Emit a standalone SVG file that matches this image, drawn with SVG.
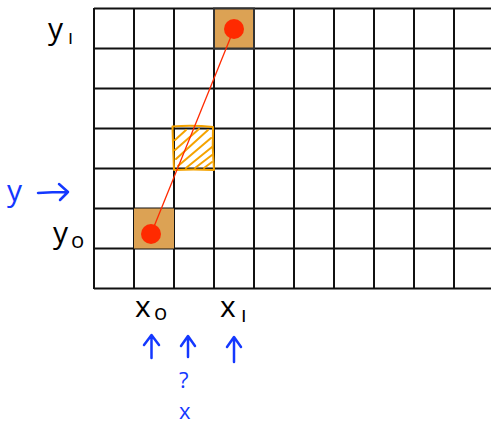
<svg xmlns="http://www.w3.org/2000/svg" width="491" height="426" viewBox="0 0 491 426">
<style>
.grid{stroke:#111;stroke-width:2;fill:none}
.cell{fill:#dca254;stroke:#333;stroke-width:2}
.dot{fill:#ff2a00}
.blk{font-family:"Open Sans","Liberation Sans",sans-serif;fill:#000}
.blu{font-family:"Open Sans","Liberation Sans",sans-serif;fill:#1438ff}
.arr{stroke:#1438ff;stroke-width:2.5;fill:none;stroke-linecap:round;stroke-linejoin:round}
.hatch{stroke:#f5a300;stroke-width:2;fill:none;stroke-linecap:round;stroke-linejoin:round}
</style>
<rect width="491" height="426" fill="#fff"/>
<g id="grid">
<path class="grid" d="M94 8.5H491M94 48.5H491M94 88.5H491M94 128.5H491M94 168.5H491M94 208.5H491M94 248.5H491M94 288.5H491"/>
<path class="grid" d="M94 8V289M134 8V289M174 8V289M214 8V289M254 8V289M294 8V289M334 8V289M374 8V289M414 8V289M454 8V289"/>
</g>
<g id="cell-start"><rect class="cell" x="134" y="208.5" width="40" height="40" style="stroke:none"/></g>
<g id="cell-end"><rect class="cell" x="214" y="8.5" width="40" height="40"/></g>
<g id="cell-mid">
<path class="hatch" d="M172.5 126.5Q193 125 213 127Q212 148 214 170Q193 169 174 170Q173 148 172.5 126.5Z"/>
<path class="hatch" d="M175 140L186 130M175 150L199 129M176 159L208 130M178 166L211 138M186 168L212 147M195 168L212 155M204 168L212 162"/>
</g>
<g id="connectors">
<line x1="234" y1="29" x2="151" y2="234" stroke="#ff2a00" stroke-width="1.3"/>
</g>
<g id="point-start"><circle class="dot" cx="151" cy="234" r="10"/></g>
<g id="point-end"><circle class="dot" cx="234" cy="29" r="10"/></g>
<g id="labels">
<text class="blk" x="48" y="39" font-size="30">y</text>
<text class="blk" x="68" y="44" font-size="20">ı</text>
<text class="blk" x="53" y="243" font-size="30">y</text>
<text class="blk" x="71" y="248" font-size="22">o</text>
<text class="blk" x="135" y="317" font-size="30">x</text>
<text class="blk" x="154" y="320" font-size="22">o</text>
<text class="blk" x="220" y="317" font-size="30">x</text>
<text class="blk" x="241" y="322" font-size="22">ı</text>
<text class="blu" x="7" y="201" font-size="30">y</text>
<path class="arr" d="M38 193Q52 192 68 192M59 184L68 192L60 200"/>
<path class="arr" d="M151.5 358V336M144 345L151.5 335L159 345"/>
<path class="arr" d="M188 357V337M181 346L188 336L195 346"/>
<path class="arr" d="M234 362V338M227 347L234 337L241 347"/>
<text class="blu" x="179" y="388" font-size="22">?</text>
<text class="blu" x="179" y="419" font-size="22">x</text>
</g>
</svg>
